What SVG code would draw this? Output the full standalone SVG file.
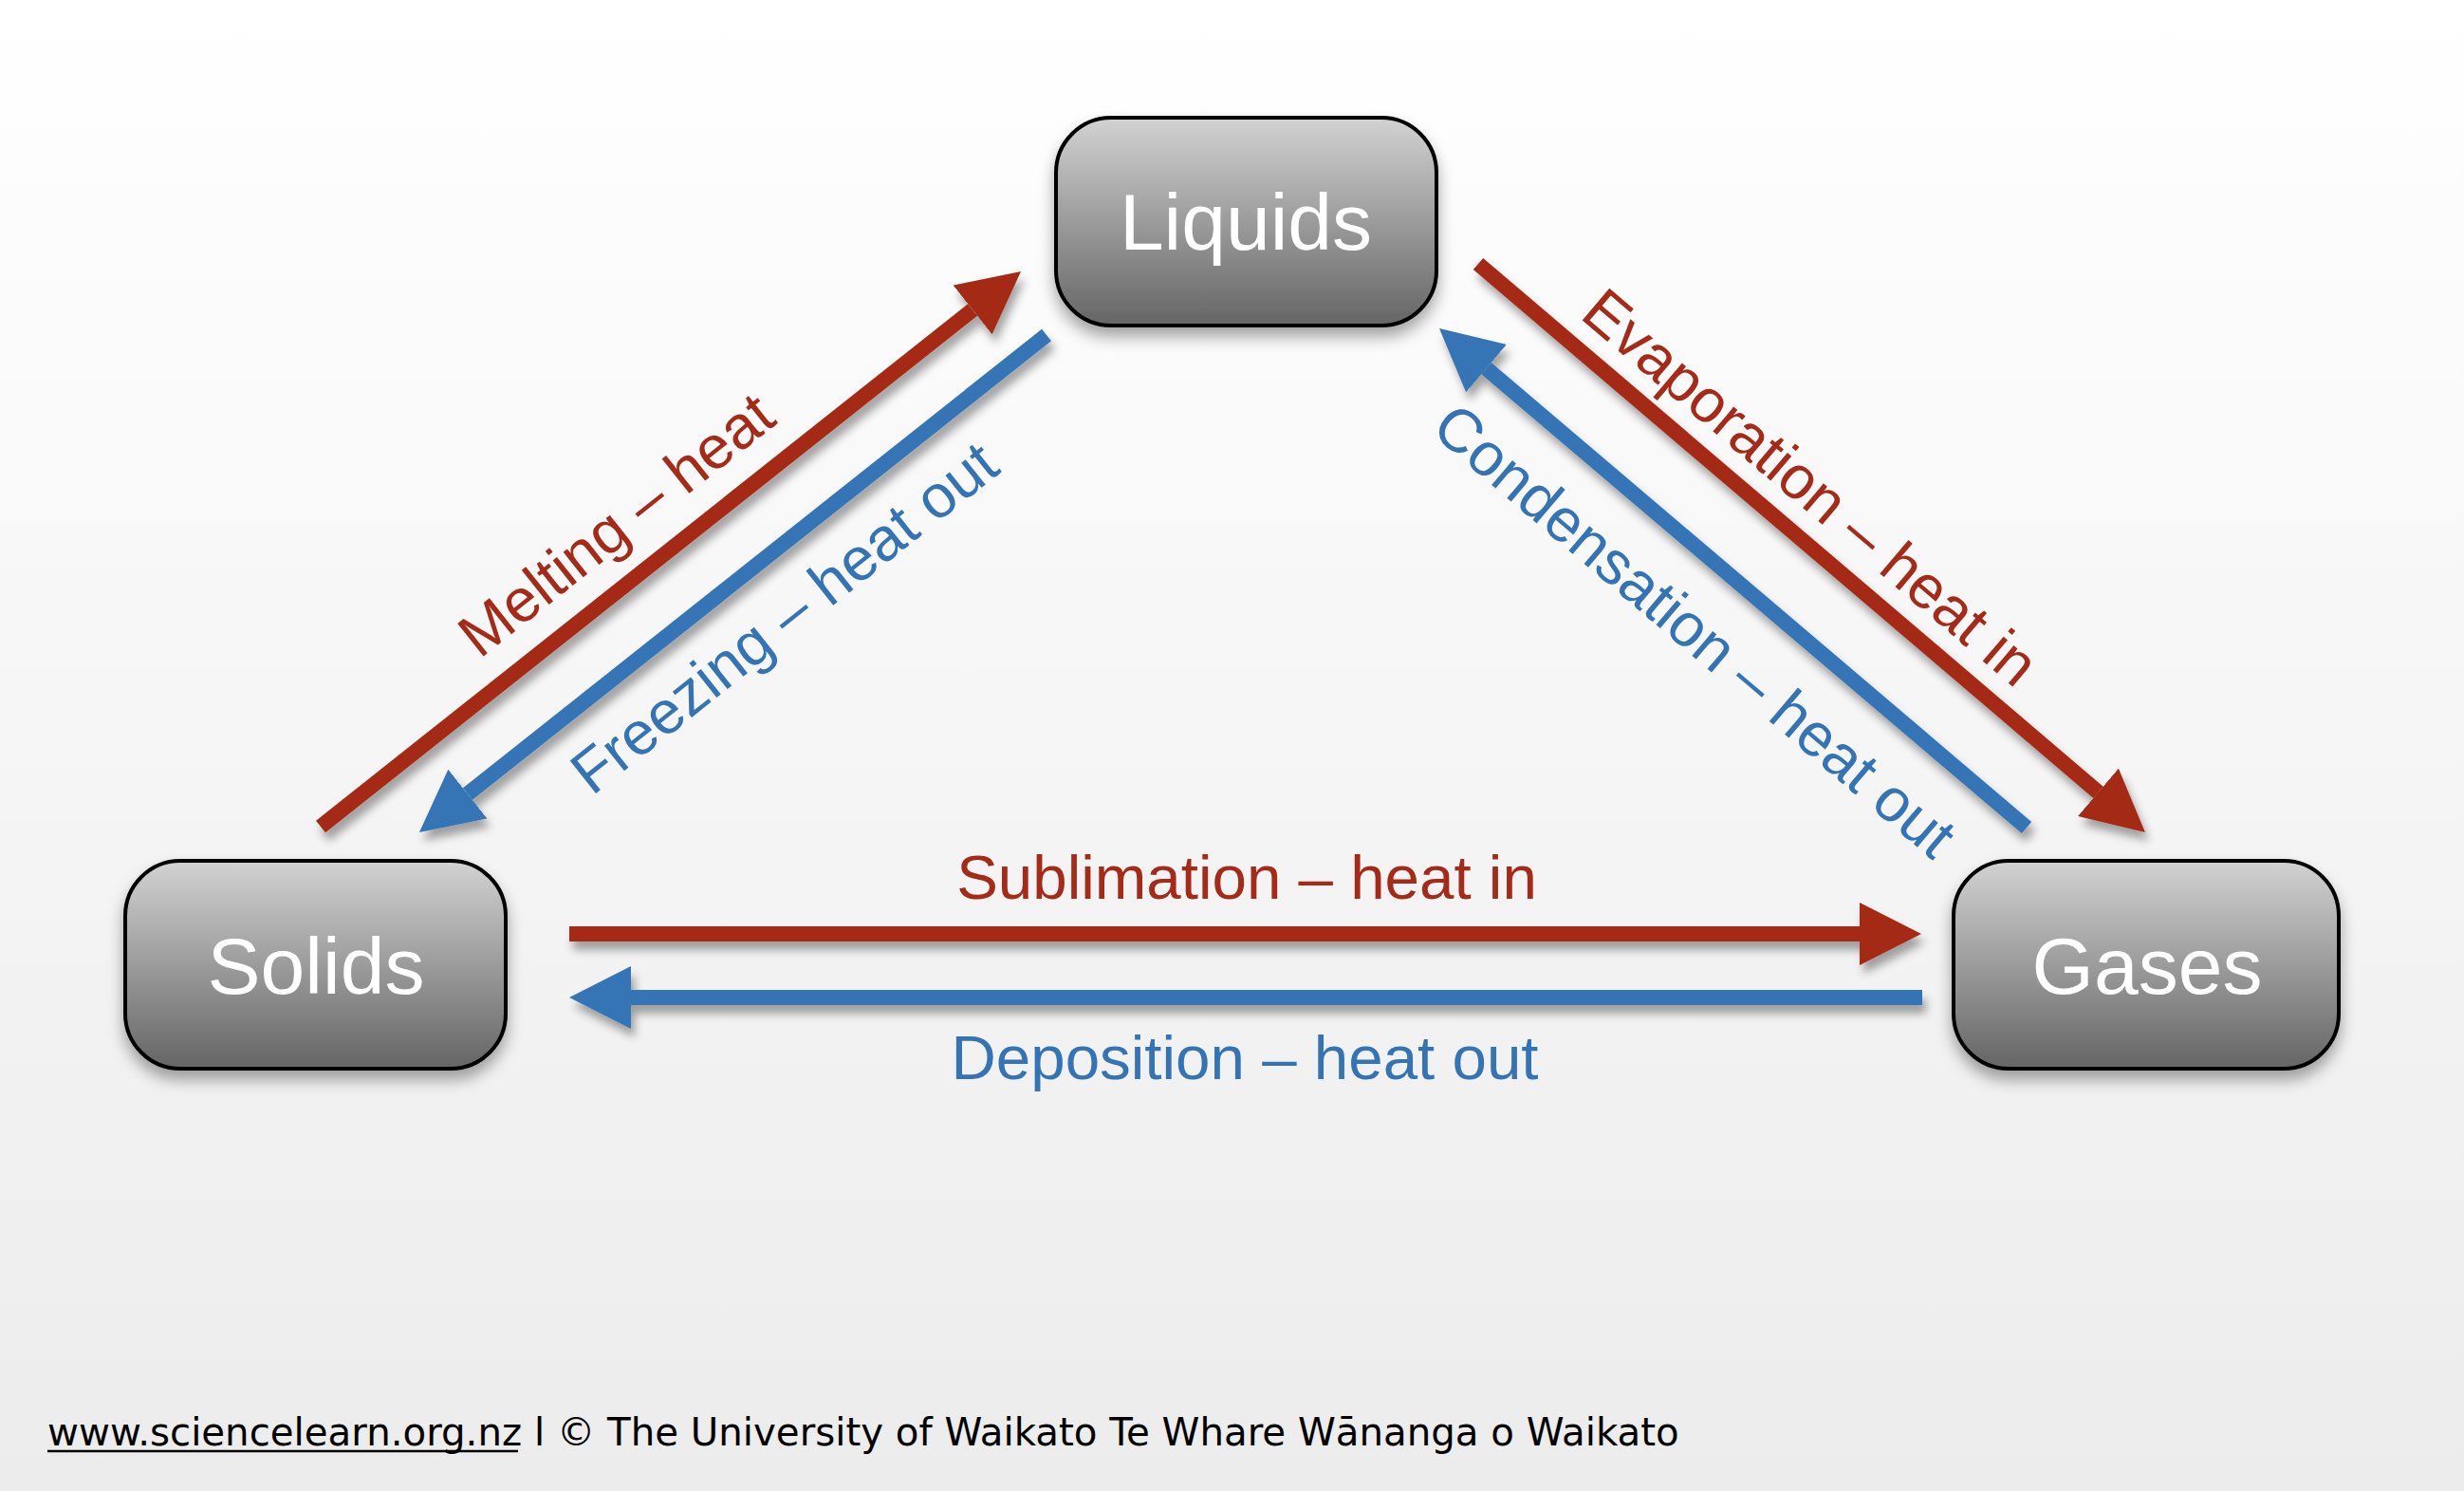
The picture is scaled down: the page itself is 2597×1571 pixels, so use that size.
<svg xmlns="http://www.w3.org/2000/svg" width="2597" height="1571" viewBox="0 0 2597 1571">
  <defs>
    <linearGradient id="bg" x1="0" y1="0" x2="0" y2="1">
      <stop offset="0" stop-color="#ffffff"/>
      <stop offset="1" stop-color="#ececec"/>
    </linearGradient>
    <linearGradient id="box" x1="0" y1="0" x2="0" y2="1">
      <stop offset="0" stop-color="#d2d2d2"/>
      <stop offset="1" stop-color="#656565"/>
    </linearGradient>
    <filter id="nodeShadow" x="-20%" y="-20%" width="140%" height="150%">
      <feDropShadow dx="0" dy="10" stdDeviation="8" flood-color="#000" flood-opacity="0.35"/>
    </filter>
    <filter id="arrowShadow" x="-10%" y="-10%" width="120%" height="130%">
      <feDropShadow dx="4" dy="9" stdDeviation="5" flood-color="#000" flood-opacity="0.35"/>
    </filter>
    <marker id="headRed" viewBox="0 0 65 66" refX="0" refY="33" markerWidth="65" markerHeight="66" markerUnits="userSpaceOnUse" orient="auto">
      <path d="M0,0 L65,33 L0,66 Z" fill="#a52a18"/>
    </marker>
    <marker id="headBlue" viewBox="0 0 65 66" refX="0" refY="33" markerWidth="65" markerHeight="66" markerUnits="userSpaceOnUse" orient="auto">
      <path d="M0,0 L65,33 L0,66 Z" fill="#3474b5"/>
    </marker>
    <style>
      .box { fill: url(#box); stroke: #000; stroke-width: 4; }
      .nodeLabel { font-family: "Liberation Sans", Arial, sans-serif; font-size: 84px; fill: #fff; text-anchor: middle; }
      .red { stroke: #a52a18; stroke-width: 16; fill: none; marker-end: url(#headRed); }
      .blue { stroke: #3474b5; stroke-width: 16; fill: none; marker-end: url(#headBlue); }
      .lbl { font-family: "Liberation Sans", Arial, sans-serif; font-size: 64px; text-anchor: middle; }
      .lblH { font-size: 65.5px; }
      .lblRed { fill: #a52a18; }
      .lblBlue { fill: #3474b5; }
      .footer { font-family: "DejaVu Sans", Verdana, sans-serif; font-size: 40.3px; fill: #000; }
    </style>
  </defs>

  <rect x="0" y="0" width="2597" height="1571" fill="url(#bg)"/>

  <g id="connectors" filter="url(#arrowShadow)">
    <path id="melting" class="red" d="M338,871 L1025.1,326.4"/>
    <path id="freezing" class="blue" d="M1103,353 L492.9,836.6"/>
    <path id="evaporation" class="red" d="M1558,278 L2211.5,834.8"/>
    <path id="condensation" class="blue" d="M2136,872 L1566.5,388.1"/>
    <path id="sublimation" class="red" d="M600,984 L1960,984"/>
    <path id="deposition" class="blue" d="M2026,1051 L665,1051"/>
  </g>

  <g id="labels">
    <text class="lbl lblRed" transform="translate(663,570) rotate(-38.4)">Melting – heat</text>
    <text class="lbl lblBlue" transform="translate(840,668) rotate(-38.4)">Freezing – heat out</text>
    <text class="lbl lblRed" transform="translate(1894,530) rotate(40.4)">Evaporation – heat in</text>
    <text class="lbl lblBlue" transform="translate(1772,681) rotate(40.4)">Condensation – heat out</text>
    <text class="lbl lblH lblRed" x="1314" y="947">Sublimation – heat in</text>
    <text class="lbl lblH lblBlue" x="1312" y="1137">Deposition – heat out</text>
  </g>

  <g id="node-liquids" filter="url(#nodeShadow)">
    <rect class="box" x="1113" y="124" width="401" height="219" rx="58" ry="58"/>
    <text class="nodeLabel" x="1313" y="263">Liquids</text>
  </g>
  <g id="node-solids" filter="url(#nodeShadow)">
    <rect class="box" x="132" y="907" width="401" height="219" rx="58" ry="58"/>
    <text class="nodeLabel" x="333" y="1047">Solids</text>
  </g>
  <g id="node-gases" filter="url(#nodeShadow)">
    <rect class="box" x="2059" y="907" width="406" height="219" rx="58" ry="58"/>
    <text class="nodeLabel" x="2263" y="1047">Gases</text>
  </g>

  <g id="footer">
    <text class="footer" x="50" y="1523"><tspan>www.sciencelearn.org.nz</tspan> l © The University of Waikato Te Whare Wānanga o Waikato</text>
    <line x1="50" y1="1529" x2="546" y2="1529" stroke="#000" stroke-width="2.5"/>
  </g>
</svg>
